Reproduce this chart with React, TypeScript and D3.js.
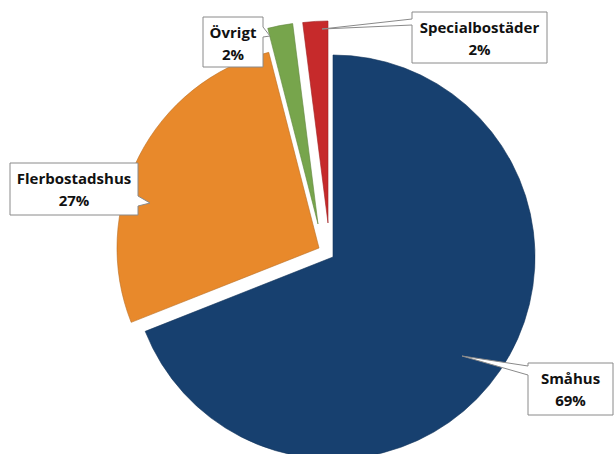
import React from "react";
import * as d3 from "d3";

const categories = ["Småhus", "Flerbostadshus", "Övrigt", "Specialbostäder"];
const values = [69, 27, 2, 2];
const percentLabels = ["69%", "27%", "2%", "2%"];
const colors = ["#17406f", "#e8892b", "#77a54c", "#c62a2b"];

// layout / style
const W = 614;
const H = 454;
const CX = 333;
const CY = 257;
const R = 202;
const sliceOffsets: [number, number][] = [
  [0, 0],
  [-14, -9],
  [-15, -33],
  [-5, -34],
];

type Box = {
  x: number;
  y: number;
  w: number;
  h: number;
  side: "left" | "right";
  n1: number;
  n2: number;
  tip: [number, number];
};
const boxes: Box[] = [
  { x: 528, y: 363, w: 85, h: 52, side: "left", n1: 366, n2: 375, tip: [462, 356] },
  { x: 10, y: 163, w: 128, h: 52, side: "right", n1: 196, n2: 206, tip: [150, 203] },
  { x: 203, y: 17, w: 60, h: 50, side: "right", n1: 27, n2: 37, tip: [270, 36] },
  { x: 412, y: 12, w: 135, h: 51, side: "left", n1: 19, n2: 25, tip: [322, 29] },
];

function calloutPath(b: Box): string {
  const p = d3.path();
  const { x, y, w, h } = b;
  p.moveTo(x, y);
  p.lineTo(x + w, y);
  if (b.side === "right") {
    p.lineTo(x + w, b.n1);
    p.lineTo(b.tip[0], b.tip[1]);
    p.lineTo(x + w, b.n2);
  }
  p.lineTo(x + w, y + h);
  p.lineTo(x, y + h);
  if (b.side === "left") {
    p.lineTo(x, b.n2);
    p.lineTo(b.tip[0], b.tip[1]);
    p.lineTo(x, b.n1);
  }
  p.closePath();
  return p.toString();
}

export default function App() {
  const pie = d3
    .pie<number>()
    .sort(null)
    .startAngle(0)
    .endAngle(2 * Math.PI)
    .value((d) => d);
  const arcs = pie(values);
  const arc = d3.arc<d3.PieArcDatum<number>>().innerRadius(0).outerRadius(R);

  return (
    <svg
      width={W}
      height={H}
      style={{ position: "absolute", left: 0, top: 0, background: "#fff" }}
      fontFamily="'Open Sans', 'DejaVu Sans', sans-serif"
    >
      <rect x={0} y={0} width={W} height={H} fill="#fff" />
      {arcs.map((a, i) => (
        <path
          key={categories[i]}
          d={arc(a) || ""}
          transform={`translate(${CX + sliceOffsets[i][0]},${CY + sliceOffsets[i][1]})`}
          fill={colors[i]}
          stroke={d3.color(colors[i])!.darker(0.6).toString()}
          strokeWidth={0.6}
        />
      ))}
      {boxes.map((b, i) => (
        <g key={"lbl" + i}>
          <path d={calloutPath(b)} fill="#fff" stroke="#8a8a8a" strokeWidth={1} />
          <text
            x={b.x + b.w / 2}
            y={b.y + 21}
            textAnchor="middle"
            fontSize={15}
            fontWeight="bold"
            fill="#111"
          >
            {categories[i]}
          </text>
          <text
            x={b.x + b.w / 2}
            y={b.y + 43}
            textAnchor="middle"
            fontSize={15}
            fontWeight="bold"
            fill="#111"
          >
            {percentLabels[i]}
          </text>
        </g>
      ))}
    </svg>
  );
}
